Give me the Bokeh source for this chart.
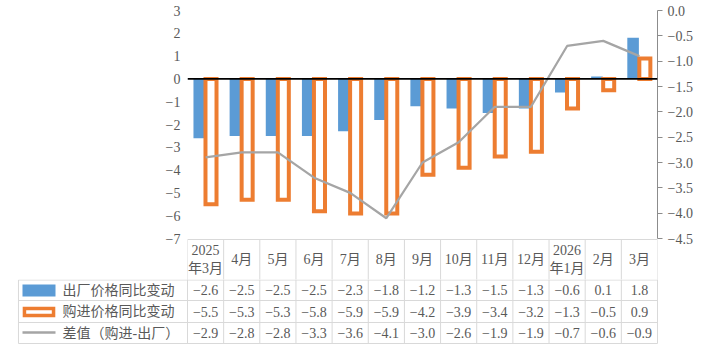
from bokeh.plotting import figure
from bokeh.models import Range1d, LinearAxis, FixedTicker, Span, ColumnDataSource, CustomJSTickFormatter
from bokeh.core.properties import value
from bokeh.transform import dodge
from bokeh.embed import file_html
from bokeh.resources import INLINE

# ---------------- data ----------------
months = ["2025\n年3月", "4月", "5月", "6月", "7月", "8月", "9月", "10月", "11月", "12月",
          "2026\n年1月", "2月", "3月"]
factory = [-2.6, -2.5, -2.5, -2.5, -2.3, -1.8, -1.2, -1.3, -1.5, -1.3, -0.6, 0.1, 1.8]
purchase = [-5.5, -5.3, -5.3, -5.8, -5.9, -5.9, -4.2, -3.9, -3.4, -3.2, -1.3, -0.5, 0.9]
diff = [-2.9, -2.8, -2.8, -3.3, -3.6, -4.1, -3.0, -2.6, -1.9, -1.9, -0.7, -0.6, -0.9]
series_names = ["出厂价格同比变动", "购进价格同比变动", "差值（购进-出厂）"]
left_ticks = [3, 2, 1, 0, -1, -2, -3, -4, -5, -6, -7]
right_ticks = [0.0, -0.5, -1.0, -1.5, -2.0, -2.5, -3.0, -3.5, -4.0, -4.5]

BLUE = "#5B9BD5"
ORANGE = "#ED7D31"
GREY = "#A5A5A5"
TXT = "#595959"
GRID = "#D9D9D9"
NUMFONT = "Liberation Serif"
CJKFONT = "Liberation Serif, Noto Sans CJK SC"

n = len(months)
xc = [i + 0.5 for i in range(n)]

# ---------------- chart (plus header row of the data table) ----------------
p = figure(width=707, height=279, x_range=Range1d(0, n), y_range=Range1d(-8.7982, 3),
           output_backend="svg", toolbar_location=None, x_axis_location=None,
           min_border_left=187, min_border_right=50, min_border_top=10, min_border_bottom=0)
p.outline_line_color = None
p.grid.visible = False
p.background_fill_color = "white"
p.border_fill_color = "white"

ly = p.yaxis[0]
ly.ticker = FixedTicker(ticks=left_ticks)
ly.formatter = CustomJSTickFormatter(code="return tick.toFixed(0).replace('-', '\u2212');")
ly.axis_line_color = None
ly.major_tick_line_color = None
ly.minor_tick_line_color = None
ly.major_tick_out = 0
ly.major_tick_in = 0
ly.major_label_standoff = 7
ly.major_label_text_font = NUMFONT
ly.major_label_text_font_size = "14px"
ly.major_label_text_color = TXT

p.extra_y_ranges = {"right": Range1d(-5.3092, 0)}
ry = LinearAxis(y_range_name="right", ticker=FixedTicker(ticks=right_ticks), bounds=(-4.5, 0))
ry.formatter = CustomJSTickFormatter(code="return tick.toFixed(1).replace('-', '\u2212');")
ry.axis_line_color = "#8C8C8C"
ry.major_tick_line_color = "#8C8C8C"
ry.minor_tick_line_color = None
ry.major_tick_out = 5
ry.major_tick_in = 0
ry.major_label_standoff = 5
ry.major_label_text_font = NUMFONT
ry.major_label_text_font_size = "14px"
ry.major_label_text_color = TXT
p.add_layout(ry, "right")

src = ColumnDataSource(dict(x=xc, fac=factory, pur=purchase, diff=diff))
p.vbar(x=dodge("x", -0.175, range=p.x_range), top="fac", bottom=0, width=0.32, source=src,
       fill_color=BLUE, line_color=None)
p.vbar(x=dodge("x", 0.15, range=p.x_range), top="pur", bottom=0, width=0.305, source=src,
       fill_color="white", line_color=ORANGE, line_width=4, line_join="miter")
p.add_layout(Span(location=0, dimension="width", line_color="black", line_width=1.6))
p.line(x="x", y="diff", source=src, y_range_name="right", line_color=GREY, line_width=2.25)

# header row of the data table
top_edge = -7.0439
p.segment(x0=list(range(n + 1)), y0=[top_edge] * (n + 1), x1=list(range(n + 1)), y1=[-9.0] * (n + 1),
          line_color=GRID, line_width=1)
p.segment(x0=[0], y0=[top_edge], x1=[n], y1=[top_edge], line_color=GRID, line_width=1)
p.text(x=xc, y=[-7.921] * n, text=months, text_align="center", text_baseline="middle",
       text_font=value(CJKFONT), text_font_size="14px", text_color=TXT, text_line_height=1.15)

# ---------------- data table body ----------------
t = figure(width=707, height=75, x_range=Range1d(-5.1723, 14.3830), y_range=Range1d(75, 0),
           output_backend="svg", toolbar_location=None, x_axis_location=None, y_axis_location=None,
           min_border=0)
t.outline_line_color = None
t.grid.visible = False
t.background_fill_color = "white"
t.border_fill_color = "white"

leg_left = -4.675
row_edges = [0.5, 21, 43, 64]
row_centers = [10.5, 32, 53.5]
t.segment(x0=list(range(n + 1)), y0=[-2] * (n + 1), x1=list(range(n + 1)), y1=[row_edges[-1]] * (n + 1),
          line_color=GRID, line_width=1)
t.segment(x0=[leg_left], y0=[row_edges[0]], x1=[leg_left], y1=[row_edges[-1]], line_color=GRID, line_width=1)
t.segment(x0=[leg_left] * 4, y0=row_edges, x1=[n] * 4, y1=row_edges, line_color=GRID, line_width=1)


def fmt(v):
    return f"{v:.1f}".replace("-", "\u2212")


for vals, yc in zip([factory, purchase, diff], row_centers):
    t.text(x=xc, y=[yc] * n, text=[fmt(v) for v in vals], text_align="center", text_baseline="middle",
           text_font=value(NUMFONT), text_font_size="14px", text_color=TXT)

# legend keys
t.quad(left=[-4.564], right=[-3.651], top=[5], bottom=[17], fill_color=BLUE, line_color=None)
t.quad(left=[-4.51], right=[-3.705], top=[29], bottom=[36], fill_color="white",
       line_color=ORANGE, line_width=3.5, line_join="miter")
t.segment(x0=[-4.564], y0=[53], x1=[-3.651], y1=[53], line_color=GREY, line_width=2.5)
t.text(x=[-3.457] * 3, y=row_centers, text=series_names, text_align="left", text_baseline="middle",
       text_font=value(CJKFONT), text_font_size="14px", text_color=TXT)

html = file_html([p, t], INLINE)
html = html.replace("<head>", "<head><style>body{margin:0;padding:0;} .bk-root, div{line-height:0;}</style>", 1)
open("out.html", "w").write(html)
